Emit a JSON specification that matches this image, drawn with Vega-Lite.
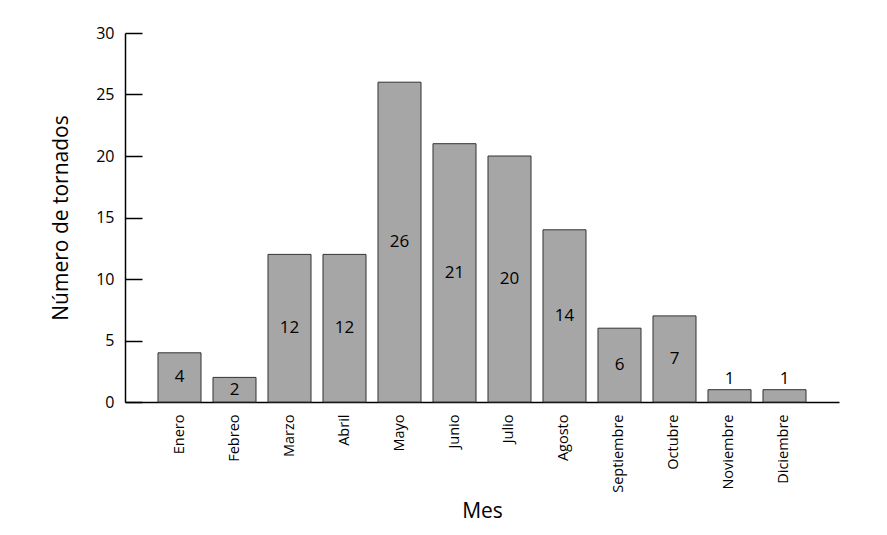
{
  "$schema": "https://vega.github.io/schema/vega-lite/v6.json",
  "autosize": "none",
  "width": 714,
  "height": 369,
  "padding": {"left": 125, "top": 33, "right": 48, "bottom": 133},
  "background": "white",
  "config": {
    "view": {"stroke": null},
    "font": "Open Sans",
    "axis": {"domainColor": "black", "domainWidth": 1.5, "grid": false, "labelColor": "black", "titleColor": "black", "titleFontWeight": "normal", "labelFont": "Open Sans", "titleFont": "Open Sans"}
  },
  "data": {
    "values": [
      {"mes": "Enero", "n": 4},
      {"mes": "Febreo", "n": 2},
      {"mes": "Marzo", "n": 12},
      {"mes": "Abril", "n": 12},
      {"mes": "Mayo", "n": 26},
      {"mes": "Junio", "n": 21},
      {"mes": "Julio", "n": 20},
      {"mes": "Agosto", "n": 14},
      {"mes": "Septiembre", "n": 6},
      {"mes": "Octubre", "n": 7},
      {"mes": "Noviembre", "n": 1},
      {"mes": "Diciembre", "n": 1}
    ]
  },
  "encoding": {
    "x": {
      "field": "mes", "type": "nominal", "sort": null,
      "scale": {"paddingInner": 0.218, "paddingOuter": 0.6},
      "axis": {"title": "Mes", "labelAngle": -90, "labelAlign": "right", "labelBaseline": "middle", "ticks": false, "labelPadding": 12, "labelFontSize": 14.5, "titleFontSize": 21, "titlePadding": 8}
    }
  },
  "layer": [
    {
      "mark": {"type": "bar", "fill": "#a6a6a6", "stroke": "#333333", "strokeWidth": 1},
      "encoding": {
        "y": {
          "field": "n", "type": "quantitative",
          "scale": {"domain": [0, 30], "nice": false},
          "axis": {"title": "Número de tornados", "values": [0, 5, 10, 15, 20, 25, 30], "tickSize": -17, "tickColor": "black", "tickWidth": 1.5, "labelPadding": 28, "labelFontSize": 16, "titleFontSize": 21, "titlePadding": 24}
        }
      }
    },
    {
      "transform": [{"filter": "datum.n > 1"}, {"calculate": "datum.n / 2", "as": "mid"}],
      "mark": {"type": "text", "fontSize": 17, "color": "black", "baseline": "middle"},
      "encoding": {
        "y": {"field": "mid", "type": "quantitative"},
        "text": {"field": "n", "type": "quantitative"}
      }
    },
    {
      "transform": [{"filter": "datum.n <= 1"}],
      "mark": {"type": "text", "fontSize": 17, "color": "black", "baseline": "bottom", "dy": -2},
      "encoding": {
        "y": {"field": "n", "type": "quantitative"},
        "text": {"field": "n", "type": "quantitative"}
      }
    }
  ]
}
